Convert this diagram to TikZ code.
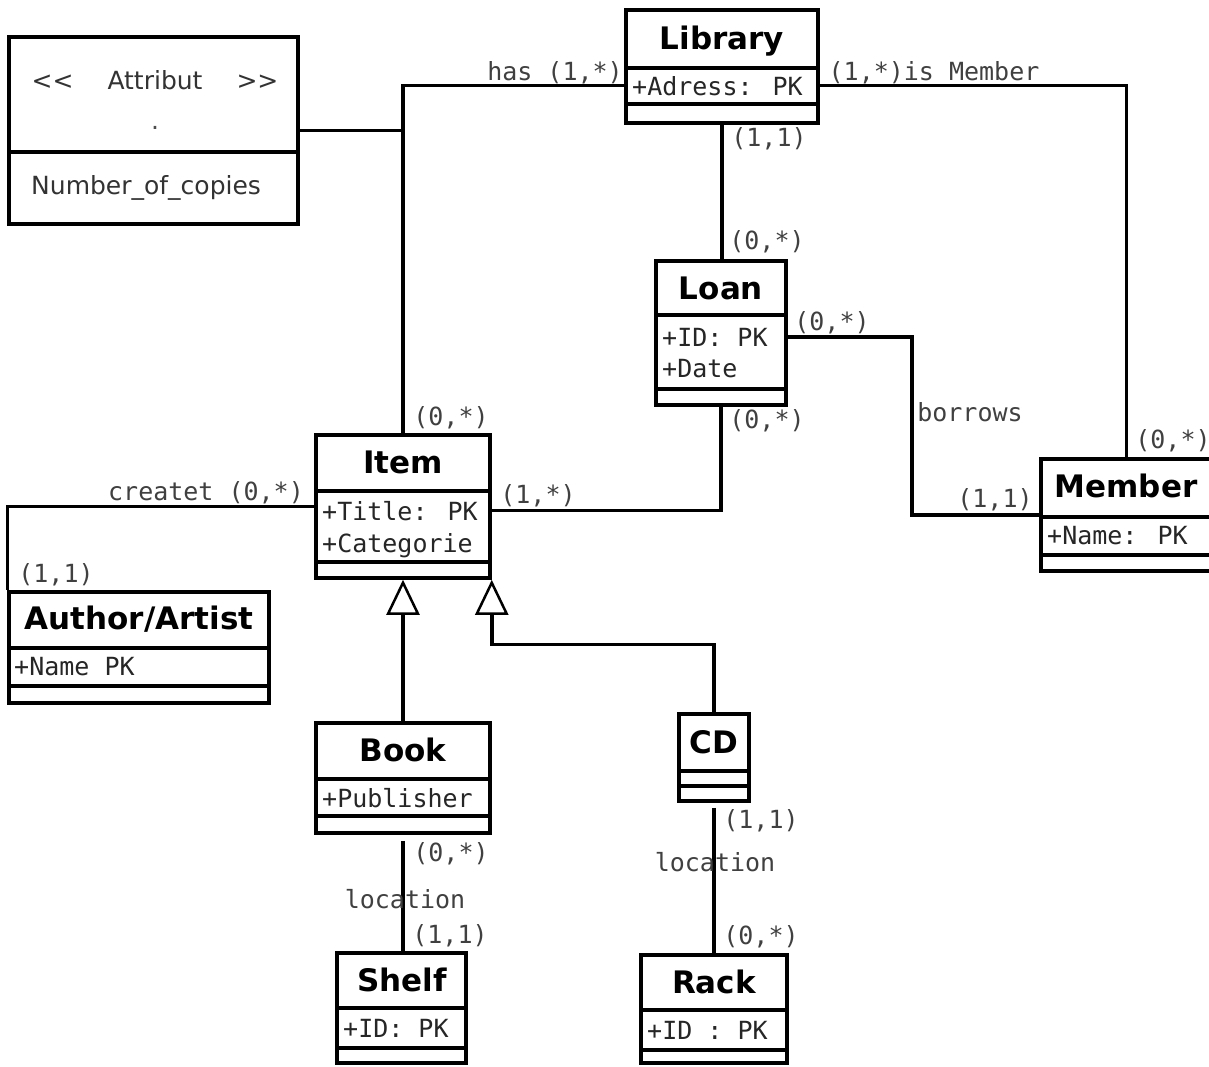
\documentclass[tikz,border=0pt]{standalone}
\usepackage{fontspec}
\setmainfont{DejaVu Sans}
\newfontfamily\monof{DejaVu Sans Mono}
\newfontfamily\attrf{DejaVu Sans}
\usetikzlibrary{fit,arrows.meta}
\begin{document}
\begin{tikzpicture}[x=1pt,y=-1pt,
  cls/.style={draw, line width=3.5pt, inner sep=0pt},
  divl/.style={line width=3.5pt},
  conn/.style={line width=3.5pt},
  ttl/.style={font=\bfseries\fontsize{31}{36}\selectfont, inner sep=0pt, anchor=base},
  att/.style={font=\monof\fontsize{25}{30}\selectfont, inner sep=0pt, anchor=base west, text=black!85},
  lbl/.style={font=\monof\fontsize{25}{30}\selectfont, inner sep=0pt, anchor=base, text=black!75},
  gen/.style={-{Triangle[open, length=35pt, width=33pt, line width=2.5pt]}}
]
\useasboundingbox (0,0) rectangle (1209,1066);
\fill[white] (0,0) rectangle (1209,1066);
\clip (0,0) rectangle (1209,1066);

% ---------- Attribut box ----------
\node[cls, fit={(9,37)(298,224)}] (attr) {};
\draw[divl] (attr.west |- 0,152) -- (attr.east |- 0,152);
\node[font=\attrf\fontsize{25}{30}\selectfont, inner sep=0pt, anchor=base, text=black!80] (attrT) at (155,89) {<\kern0pt<\hspace{34pt}Attribut\hspace{34pt}>\kern0pt>};
\node[font=\attrf\fontsize{25}{30}\selectfont, inner sep=0pt, anchor=base, text=black!70] (attrDot) at (155,129) {.};
\node[font=\attrf\fontsize{25}{30}\selectfont, inner sep=0pt, anchor=base west, text=black!80] (attrN) at (31,194) {Number\_of\_copies};

% ---------- Library ----------
\node[cls, fit={(626,10)(818,123)}] (lib) {};
\draw[divl] (lib.west |- 0,68) -- (lib.east |- 0,68);
\draw[divl] (lib.west |- 0,104) -- (lib.east |- 0,104);
\node[ttl] (libT) at (722,49) {Library};
\node[att] (libA) at (632,95) {+Adress: PK};

% ---------- Loan ----------
\node[cls, fit={(656,261)(786,405)}] (loan) {};
\draw[divl] (loan.west |- 0,315) -- (loan.east |- 0,315);
\draw[divl] (loan.west |- 0,389) -- (loan.east |- 0,389);
\node[ttl] (loanT) at (721,299) {Loan};
\node[att] (loanA) at (662,346) {+ID: PK};
\node[att] (loanB) at (662,377) {+Date};

% ---------- Member ----------
\node[cls, fit={(1041,459)(1212,571)}] (member) {};
\draw[divl] (member.west |- 0,517) -- (member.east |- 0,517);
\draw[divl] (member.west |- 0,555) -- (member.east |- 0,555);
\node[ttl] (memberT) at (1126,497) {Member};
\node[att] (memberA) at (1047,544) {+Name: PK};

% ---------- Item ----------
\node[cls, fit={(316,435)(490,578)}] (item) {};
\draw[divl] (item.west |- 0,491) -- (item.east |- 0,491);
\draw[divl] (item.west |- 0,562) -- (item.east |- 0,562);
\node[ttl] (itemT) at (403,473) {Item};
\node[att] (itemA) at (322,520) {+Title: PK};
\node[att] (itemB) at (322,552) {+Categorie};

% ---------- Author/Artist ----------
\node[cls, fit={(9,592)(269,703)}] (author) {};
\draw[divl] (author.west |- 0,648) -- (author.east |- 0,648);
\draw[divl] (author.west |- 0,686) -- (author.east |- 0,686);
\node[ttl] (authorT) at (139,629) {Author/Artist};
\node[att] (authorA) at (14,675) {+Name PK};

% ---------- Book ----------
\node[cls, fit={(316,723)(490,833)}] (book) {};
\draw[divl] (book.west |- 0,779) -- (book.east |- 0,779);
\draw[divl] (book.west |- 0,816) -- (book.east |- 0,816);
\node[ttl] (bookT) at (403,761) {Book};
\node[att] (bookA) at (322,807) {+Publisher};

% ---------- CD ----------
\node[cls, fit={(679,714)(749,801)}] (cd) {};
\draw[divl] (cd.west |- 0,771) -- (cd.east |- 0,771);
\draw[divl] (cd.west |- 0,786) -- (cd.east |- 0,786);
\node[ttl] (cdT) at (714,753) {CD};

% ---------- Shelf ----------
\node[cls, fit={(337,953)(466,1063)}] (shelf) {};
\draw[divl] (shelf.west |- 0,1008) -- (shelf.east |- 0,1008);
\draw[divl] (shelf.west |- 0,1048) -- (shelf.east |- 0,1048);
\node[ttl] (shelfT) at (402,991) {Shelf};
\node[att] (shelfA) at (343,1037) {+ID: PK};

% ---------- Rack ----------
\node[cls, fit={(641,955)(787,1063)}] (rack) {};
\draw[divl] (rack.west |- 0,1010) -- (rack.east |- 0,1010);
\draw[divl] (rack.west |- 0,1050) -- (rack.east |- 0,1050);
\node[ttl] (rackT) at (714,993) {Rack};
\node[att] (rackA) at (647,1039) {+ID : PK};

% ---------- Connectors ----------
\draw[conn] (attr.east) -- (attr.east -| item.north);
\draw[conn] (item.north) -- (item.north |- libA) -- (lib.west |- libA);
\draw[conn] (lib.east |- libA) -| (member.north);
\draw[conn] (lib.south) -- (lib.south |- loan.north);
\coordinate (bw) at (912,420);
\draw[conn] (loan.east |- loanA) -| (bw) |- (member.west);
\draw[conn] (loan.south) |- (item.east |- itemA);
\draw[conn] (item.west) -| (author.north west);
\draw[conn, gen] (book.north) -- (item.south);
\draw[conn, gen] (cd.north) -- ++(0,-68) -| (item.south east);
\draw[conn, shorten <=6pt] (book.south) -- (book.south |- shelf.north);
\draw[conn, shorten <=5pt] (cd.south) -- (cd.south |- rack.north);

% ---------- Labels ----------
\node[lbl] (l1) at (555,80) {has (1,*)};
\node[lbl] (l2) at (934,80) {(1,*)is Member};
\node[lbl] (l3) at (769,146) {(1,1)};
\node[lbl] (l4) at (767,249) {(0,*)};
\node[lbl] (l5) at (832,330) {(0,*)};
\node[lbl] (l6) at (970,421) {borrows};
\node[lbl] (l7) at (995,507) {(1,1)};
\node[lbl] (l8) at (767,428) {(0,*)};
\node[lbl] (l9) at (538,503) {(1,*)};
\node[lbl] (l10) at (451,425) {(0,*)};
\node[lbl] (l11) at (1173,448) {(0,*)};
\node[lbl] (l12) at (206,500) {createt (0,*)};
\node[lbl] (l13) at (56,582) {(1,1)};
\node[lbl] (l14) at (451,861) {(0,*)};
\node[lbl] (l15) at (405,908) {location};
\node[lbl] (l16) at (450,943) {(1,1)};
\node[lbl] (l17) at (761,828) {(1,1)};
\node[lbl] (l18) at (715,871) {location};
\node[lbl] (l19) at (761,944) {(0,*)};
\end{tikzpicture}
\end{document}
